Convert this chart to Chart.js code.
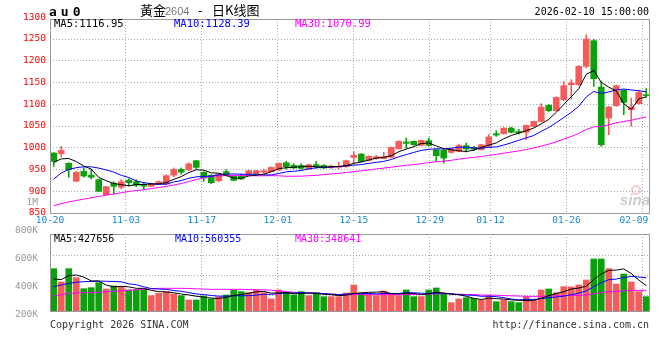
<!DOCTYPE html>
<html><head><meta charset="utf-8">
<script src="https://cdn.jsdelivr.net/npm/chart.js@4.4.1/dist/chart.umd.min.js"></script>
<style>
html,body{margin:0;padding:0;background:#fff;}
#wrap{position:relative;width:660px;height:360px;}
canvas{position:absolute;left:0;top:0;}
</style></head><body>
<div id="wrap"><canvas id="cA" width="660" height="360"></canvas><canvas id="cB" width="660" height="360"></canvas></div>
<script>
// ---------------- data ----------------
const dateLabels = ['10-20','11-03','11-17','12-01','12-15','12-29','01-12','01-26','02-09'];
const tickIdx    = [0, 10, 20, 30, 40, 50, 58, 68, 78];
const priceTicks = [850, 900, 950, 1000, 1050, 1100, 1150, 1200, 1250, 1300];
const volLabelTicks = [200000, 400000, 600000, 800000, 1000000];

const open = [988.0,986.4,964.5,923.1,945.6,936.9,926.6,892.1,918.5,909.3,
925.4,921.9,915.7,911.2,916.3,916.7,936.9,950.2,949.5,970.3,
943.4,936.4,924.2,945.0,934.3,934.3,938.0,940.4,943.4,945.0,
948.7,965.6,959.4,959.4,951.0,961.1,959.4,954.1,954.9,956.4,
977.9,985.5,971.0,974.8,974.8,977.9,997.8,1013.2,1014.7,1005.5,
1016.2,995.6,993.9,989.4,991.7,1004.8,1000.9,995.6,1003.1,1032.3,
1032.3,1045.3,1037.1,1035.4,1049.2,1060.7,1097.4,1085.2,1110.5,1145.0,
1145.0,1187.1,1246.1,1139.6,1068.3,1096.7,1131.9,1087.5,1101.3,1122.0];
const high = [988.6,1003.1,965.3,945.6,954.2,950.6,928.2,911.2,921.8,926.6,
928.9,926.6,919.7,917.8,923.8,938.0,953.5,953.5,965.6,971.4,
945.1,938.0,941.0,949.5,936.0,939.6,948.1,948.1,951.0,956.2,
965.3,968.7,963.3,963.3,962.3,968.7,961.1,960.2,966.3,971.4,
990.9,986.6,981.5,982.5,989.4,1001.7,1015.9,1022.4,1015.9,1017.9,
1023.1,996.7,995.7,998.7,1008.5,1010.8,1003.1,1007.8,1029.9,1039.1,
1046.2,1047.2,1042.2,1052.3,1061.4,1101.3,1099.8,1117.0,1152.6,1156.5,
1188.9,1259.9,1249.5,1152.6,1094.8,1144.4,1133.2,1114.3,1131.9,1136.1];
const low = [957.1,978.8,932.3,921.8,932.3,928.2,899.6,891.5,894.4,905.6,
911.7,910.5,904.6,910.2,915.2,914.7,933.4,939.2,947.2,951.9,
922.7,917.4,921.8,935.0,923.8,926.9,937.0,939.0,940.4,944.1,
947.1,951.0,952.2,950.3,950.1,952.6,952.2,952.6,951.0,955.2,
962.6,967.3,969.4,973.4,974.4,976.4,996.7,999.4,1005.8,1004.8,
1003.7,968.7,964.9,987.6,990.6,990.2,993.9,994.6,1001.7,1026.2,
1031.1,1034.1,1031.1,1018.5,1048.2,1059.4,1082.6,1083.7,1108.0,1112.1,
1143.3,1183.8,1141.1,1003.1,1030.0,1094.8,1076.0,1049.2,1099.8,1115.8];
const close = [968.6,993.9,949.5,943.4,935.0,932.3,899.7,910.5,911.2,921.9,
919.7,913.9,911.7,916.7,921.9,935.8,950.2,943.8,962.7,954.8,
930.4,919.7,939.6,936.4,925.1,928.1,947.2,947.2,947.2,954.9,
964.1,956.4,953.5,952.6,961.1,956.4,953.5,957.9,956.7,970.3,
982.5,968.6,980.2,979.5,979.5,1000.9,1014.7,1010.1,1007.0,1017.0,
1005.5,981.7,976.3,997.1,1004.8,997.1,997.1,1007.0,1024.7,1029.2,
1045.3,1035.4,1034.1,1051.5,1060.7,1093.6,1085.2,1115.8,1142.6,1148.8,
1187.1,1250.0,1158.7,1007.0,1093.6,1142.6,1104.3,1093.6,1127.3,1119.6];

const ma5 = [966.3,974.4,975.4,968.3,958.1,950.8,931.9,924.1,917.8,915.1,
912.6,915.4,915.6,916.8,916.8,920.0,927.3,933.7,942.9,949.4,
948.4,942.3,941.4,936.2,930.2,929.8,935.3,936.8,938.9,944.9,
952.2,954.0,955.2,956.3,957.5,956.0,955.4,956.3,957.1,958.9,
964.2,967.2,971.7,976.2,978.1,981.7,990.9,997.0,1002.4,1009.9,
1010.8,1004.3,997.5,995.6,993.0,991.4,994.4,1000.6,1006.1,1011.1,
1020.6,1028.3,1033.8,1039.2,1045.4,1055.0,1065.1,1081.3,1099.5,1117.2,
1136.0,1168.8,1177.4,1150.3,1139.3,1130.4,1101.3,1088.2,1112.3,1116.95];
const ma10 = [927.9,942.0,950.1,954.2,956.2,956.2,953.2,949.1,944.1,936.6,
931.7,923.7,919.9,917.3,916.0,916.3,921.3,924.6,929.8,933.1,
934.2,934.8,937.6,939.5,939.8,939.1,938.8,939.1,937.6,937.6,
940.9,944.6,946.0,947.6,951.3,954.1,954.7,955.8,956.7,958.2,
960.1,961.3,964.0,966.6,968.6,973.0,979.1,984.3,989.3,994.0,
996.3,997.6,997.2,999.0,1001.5,1001.1,999.4,999.1,1000.8,1002.0,
1006.1,1011.4,1017.2,1022.7,1028.2,1037.8,1046.6,1057.6,1069.4,1081.3,
1095.5,1116.9,1129.4,1124.9,1128.3,1133.1,1135.0,1132.8,1131.3,1128.39];
const ma30 = [866.7,871.7,875.3,878.8,881.9,884.9,887.9,891.0,893.5,896.5,
899.6,901.6,903.6,906.1,908.7,911.2,914.2,917.8,922.3,926.9,
930.9,934.0,935.5,936.0,936.5,936.5,936.0,935.5,935.5,935.8,
935.6,934.4,934.5,934.8,935.7,936.5,938.3,939.8,941.3,943.0,
945.1,946.9,949.2,951.3,953.2,955.4,957.5,959.8,961.2,963.3,
965.8,967.8,969.1,971.1,973.8,976.1,977.8,979.7,982.3,984.7,
987.5,990.1,992.7,996.1,999.4,1004.0,1008.3,1013.7,1019.8,1025.8,
1032.6,1042.0,1048.0,1048.9,1052.6,1057.4,1060.4,1063.1,1067.2,1070.99];

const volume = [715000,490000,715000,563000,377000,394000,479000,372000,422000,411000,
355000,355000,366000,259000,299000,327000,287000,259000,186000,186000,
253000,203000,237000,270000,355000,327000,310000,355000,310000,203000,
355000,315000,270000,327000,259000,310000,242000,242000,242000,304000,
439000,304000,287000,259000,338000,287000,259000,355000,242000,242000,
355000,389000,287000,141000,203000,225000,214000,186000,259000,158000,
186000,158000,141000,242000,180000,355000,372000,310000,411000,406000,
439000,524000,879000,879000,715000,456000,625000,490000,327000,242000];
const volMa5 = [541000,530000,597000,608000,572000,508000,506000,437000,409000,416000,
408000,383000,382000,349000,327000,321000,308000,286000,272000,249000,
234000,217000,213000,230000,264000,278000,300000,323000,331000,301000,
307000,308000,291000,294000,305000,296000,282000,276000,259000,268000,
294000,306000,315000,319000,325000,295000,286000,300000,296000,277000,
291000,317000,303000,283000,275000,249000,214000,194000,217000,208000,
201000,189000,180000,177000,181000,215000,258000,292000,326000,371000,
388000,418000,532000,625000,687000,691000,711000,633000,523000,427656];
const volMa10 = [411000,440000,465000,485000,495000,500000,505000,502000,498000,494000,
458000,444000,409000,379000,371000,365000,345000,334000,310000,288000,
278000,263000,250000,251000,256000,256000,259000,268000,281000,282000,
293000,304000,307000,313000,303000,301000,295000,283000,277000,287000,
295000,294000,296000,289000,297000,294000,296000,307000,307000,301000,
293000,301000,301000,290000,276000,270000,265000,248000,250000,242000,
225000,202000,187000,197000,195000,208000,224000,236000,251000,276000,
301000,338000,412000,476000,529000,539000,564000,582000,574000,560355];
const volMa30 = [253000,275000,299000,305000,309000,313000,316000,325000,335000,342000,
350000,360000,370000,376000,383000,383000,383000,383000,380000,375000,
370000,366000,366000,366000,366000,366000,363000,360000,357000,352000,
338000,330000,315000,306000,302000,298000,290000,286000,280000,276000,
279000,277000,275000,275000,276000,275000,274000,277000,279000,281000,
284000,290000,292000,288000,283000,279000,276000,270000,268000,267000,
261000,256000,252000,249000,247000,248000,252000,255000,260000,264000,
264000,271000,290000,311000,324000,330000,342000,346000,348000,348641];

// ---------------- styling ----------------
const N = close.length;
const UP = '#f65b5b', DOWN = '#0ca00c';
const candleColor = close.map((c, i) => c >= open[i] ? UP : DOWN);
const MONO = '"DejaVu Sans Mono", monospace';
const GRID = '#a8a8a8';
const FRAME = '#999999';
const xTickValues = tickIdx.map(k => k * N / (N - 1));
const pts = arr => arr.map((v, i) => ({ x: i + 0.5, y: v }));
const lineDs = (arr, color, axis) => ({ type: 'line', data: pts(arr), yAxisID: axis, borderColor: color,
  borderWidth: 1, pointRadius: 0, tension: 0, order: 0 });
const noPad = s => { s.paddingLeft = 0; s.paddingRight = 0; s.paddingTop = 0; s.paddingBottom = 0; };

function txt(ctx, s, x, y, font, color, align, spacing) {
  ctx.save();
  ctx.font = font; ctx.fillStyle = color; ctx.textAlign = align || 'left'; ctx.textBaseline = 'alphabetic';
  if (spacing) ctx.letterSpacing = spacing;
  ctx.fillText(s, x, y);
  ctx.restore();
}
const framePlugin = { id: 'frame', afterDraw(chart) {
  const a = chart.chartArea, ctx = chart.ctx;
  ctx.save(); ctx.strokeStyle = FRAME; ctx.lineWidth = 1;
  ctx.strokeRect(Math.round(a.left) + 0.5, Math.round(a.top) + 0.5, Math.round(a.right - a.left) - 1, Math.round(a.bottom - a.top));
  ctx.restore();
}};

const textA = { id: 'textA',
  beforeDatasetsDraw(chart) {
    const ctx = chart.ctx;
    ctx.save();
    ctx.strokeStyle = 'rgba(235,130,130,0.4)'; ctx.lineWidth = 2;
    ctx.beginPath(); ctx.arc(636, 190, 4, 0, Math.PI * 2); ctx.stroke();
    ctx.restore();
    txt(ctx, 'sina', 620, 205, 'italic bold 15px "Liberation Sans", sans-serif', 'rgba(160,160,160,0.55)');
  },
  afterDraw(chart) {
    const ctx = chart.ctx;
    txt(ctx, 'au0', 49, 16, 'bold 13px ' + MONO, '#000', 'left', '4px');
    txt(ctx, '黃金', 140, 15, '13px "Noto Sans CJK SC"', '#000');
    txt(ctx, '2604', 165, 15, '11px "Liberation Sans", sans-serif', '#777');
    txt(ctx, '-', 198, 15, '13px "Noto Sans CJK SC"', '#000');
    txt(ctx, '日K线图', 212, 15, '13px "Noto Sans CJK SC"', '#000');
    txt(ctx, '2026-02-10 15:00:00', 649, 15, '10px ' + MONO, '#000', 'right');
    txt(ctx, 'MA5:' + ma5[N - 1].toFixed(2), 54, 27, '10.5px ' + MONO, '#000');
    txt(ctx, 'MA10:' + ma10[N - 1].toFixed(2), 174, 27, '10.5px ' + MONO, '#0000ff');
    txt(ctx, 'MA30:' + ma30[N - 1].toFixed(2), 295, 27, '10.5px ' + MONO, '#ff00ff');
  }
};
const textB = { id: 'textB', afterDraw(chart) {
  const ctx = chart.ctx;
  txt(ctx, 'MA5:' + volMa5[N - 1], 54, 242, '10px ' + MONO, '#000');
  txt(ctx, 'MA10:' + volMa10[N - 1], 175, 242, '10px ' + MONO, '#0000ff');
  txt(ctx, 'MA30:' + volMa30[N - 1], 295, 242, '10px ' + MONO, '#ff00ff');
  txt(ctx, 'Copyright 2026 SINA.COM', 50, 328, '10px ' + MONO, '#333');
  txt(ctx, 'http://finance.sina.com.cn', 649, 328, '10px ' + MONO, '#333', 'right');
}};

const xScale = (showLabels) => ({
  type: 'linear', min: 0, max: N, offset: false, bounds: 'data',
  grid: { color: GRID, drawTicks: false, offset: false, lineWidth: 1 },
  border: { display: false, dash: [1, 2] },
  afterBuildTicks: s => { s.ticks = xTickValues.map(v => ({ value: v })); },
  afterFit: s => { s.height = showLabels ? 20 : 0; noPad(s); },
  ticks: { display: showLabels, autoSkip: false, maxRotation: 0, padding: 2, color: '#1a86cc',
    font: { family: MONO, size: 9.5 },
    callback: (v, i) => i === dateLabels.length - 1 ? dateLabels[i] + '   ' : dateLabels[i] }
});

// ---------------- price chart ----------------
new Chart(document.getElementById('cA'), {
  type: 'bar',
  data: { datasets: [
    lineDs(ma5, '#000000', 'y'),
    lineDs(ma10, '#0000ff', 'y'),
    lineDs(ma30, '#ff00ff', 'y'),
    { type: 'bar', data: high.map((h, i) => ({ x: i + 0.5, y: [low[i], h] })), backgroundColor: candleColor,
      barThickness: 1, grouped: false, order: 2 },
    { type: 'bar', data: open.map((o, i) => ({ x: i + 0.5, y: [o, close[i]] })), backgroundColor: candleColor,
      barThickness: 6, minBarLength: 1, grouped: false, order: 1 }
  ]},
  options: {
    responsive: false, animation: false, events: [],
    layout: { padding: { left: 0, right: 10, top: 19, bottom: 127 } },
    plugins: { legend: { display: false }, tooltip: { enabled: false } },
    scales: {
      x: xScale(true),
      y: { type: 'linear', position: 'left', min: 850, max: 1296, bounds: 'data',
        grid: { color: c => (c.tick && c.tick.value > 1296) ? 'rgba(0,0,0,0)' : GRID, drawTicks: false },
        border: { display: false, dash: [1, 2] },
        afterBuildTicks: s => { s.ticks = priceTicks.map(v => ({ value: v })); },
        afterFit: s => { s.width = 50; noPad(s); },
        ticks: { autoSkip: false, padding: 4, color: '#ff0000', font: { family: MONO, size: 9.5 },
          callback: v => String(v) } }
    }
  },
  plugins: [framePlugin, textA]
});

// ---------------- volume chart ----------------
new Chart(document.getElementById('cB'), {
  type: 'bar',
  data: { datasets: [
    lineDs(volMa5, '#000000', 'yv'),
    lineDs(volMa10, '#0000ff', 'yv'),
    lineDs(volMa30, '#ff00ff', 'yv'),
    { type: 'bar', yAxisID: 'yv', data: pts(volume), backgroundColor: candleColor,
      barThickness: 6, grouped: false, order: 1 }
  ]},
  options: {
    responsive: false, animation: false, events: [],
    layout: { padding: { left: 0, right: 10, top: 234, bottom: 49 } },
    plugins: { legend: { display: false }, tooltip: { enabled: false } },
    scales: {
      x: xScale(false),
      yv: { type: 'linear', position: 'right', min: 0, max: 1300000, bounds: 'data',
        grid: { color: GRID, drawTicks: false }, border: { display: false, dash: [1, 2] },
        afterBuildTicks: s => { s.ticks = [265000, 603000, 940000].map(v => ({ value: v })); },
        afterFit: s => { s.width = 0; noPad(s); }, ticks: { display: false } },
      ylab: { type: 'linear', position: 'left', min: 226400, max: 773300, bounds: 'data',
        grid: { display: false }, border: { display: false },
        afterBuildTicks: s => { s.ticks = volLabelTicks.map(v => ({ value: v })); },
        afterFit: s => { s.width = 50; noPad(s); },
        ticks: { autoSkip: false, padding: 4, color: '#999999', font: { family: MONO, size: 9.5 },
          callback: v => v >= 1000000 ? (v / 1000000) + 'M' : (v / 1000) + 'K' } }
    }
  },
  plugins: [framePlugin, textB]
});
</script>
</body></html>
